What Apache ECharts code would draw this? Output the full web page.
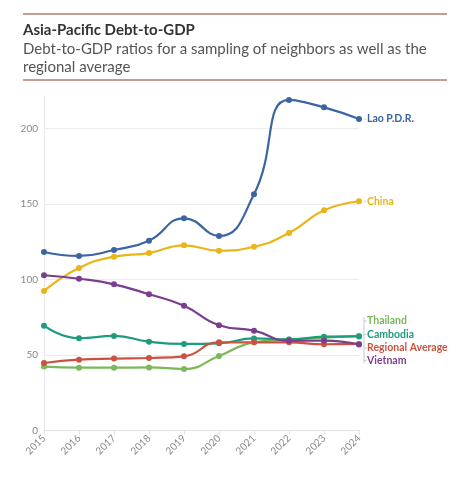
<!DOCTYPE html>
<html><head><meta charset="utf-8">
<script src="https://cdn.jsdelivr.net/npm/echarts@6/dist/echarts.min.js"></script>
<style>html,body{margin:0;padding:0;background:#fff;}#c{width:467px;height:482px;}</style>
</head><body><div id="c"></div>
<script>
const years = ['2015','2016','2017','2018','2019','2020','2021','2022','2023','2024'];
const lao = [118.2,115.6,119.5,125.7,140.5,128.8,156.4,218.9,214.0,206.3];
const china = [92.4,107.6,115.1,117.5,122.6,119.1,121.7,130.8,145.8,151.8];
const vietnam = [102.8,100.5,96.8,90.2,82.6,69.7,66.1,59.4,59.5,57.0];
const cambodia = [69.4,61.1,62.6,58.8,57.3,57.7,61.0,60.3,62.1,62.3];
const regional = [44.7,46.9,47.6,48.0,49.1,58.4,58.4,58.4,57.1,57.3];
const thailand = [42.3,41.6,41.6,41.8,40.7,49.3,58.4,60.3,61.5,62.6];
const yTicks = [0,50,100,150,200];

const FONT = 'Lato';
const seriesDefs = [
  {name:'Lao P.D.R.', data:lao, color:'#3b64a3', dy:0},
  {name:'China', data:china, color:'#e9b518', dy:0},
  {name:'Thailand', data:thailand, color:'#7ab85a', dy:-15},
  {name:'Cambodia', data:cambodia, color:'#1f9b7d', dy:-2},
  {name:'Regional Average', data:regional, color:'#cc5240', dy:4},
  {name:'Vietnam', data:vietnam, color:'#7b3d8e', dy:16}
];
const chart = echarts.init(document.getElementById('c'), null, {renderer:'canvas'});
const baseGraphic = [
  {type:'line', shape:{x1:23,y1:14,x2:447,y2:14}, style:{stroke:'#8c3b2e', lineWidth:1.2}},
  {type:'line', shape:{x1:23,y1:80,x2:447,y2:80}, style:{stroke:'#8c3b2e', lineWidth:1.2}},
  {type:'text', left:23, top:23, style:{text:'Asia-Pacific Debt-to-GDP', font:'bold 15px '+FONT, fill:'#333'}},
  {type:'text', left:23, top:40, style:{text:'Debt-to-GDP ratios for a sampling of neighbors as well as the\nregional average', font:'15px '+FONT, fill:'#555', lineHeight:18}}
];
chart.setOption({
  animation:false,
  textStyle:{fontFamily:FONT},
  graphic:baseGraphic,
  grid:{left:44, right:108, top:96, bottom:51.5},
  xAxis:{type:'category', data:years, boundaryGap:false,
    axisLine:{lineStyle:{color:'#e3e3e3'}}, axisTick:{show:true, alignWithLabel:true, lineStyle:{color:'#e3e3e3'}, length:4},
    axisLabel:{rotate:45, color:'#888', fontSize:10, margin:6}},
  yAxis:{type:'value', min:0, max:221.5, interval:50,
    axisLine:{show:true, lineStyle:{color:'#e8e8e8'}}, axisTick:{show:false},
    axisLabel:{color:'#888', fontSize:10, margin:6, showMaxLabel:false},
    splitLine:{lineStyle:{color:'#ececec'}, showMaxLine:false}},
  series: seriesDefs.map(s=>({
    name:s.name, type:'line', data:s.data, smooth:true, symbol:'circle', symbolSize:6,
    lineStyle:{width:2.2, color:s.color}, itemStyle:{color:s.color},
    endLabel:{show:true, formatter:'{a}', color:s.color, fontWeight:'bold', fontSize:10.5, distance:8, offset:[0,s.dy]}
  }))
});
// thin grey bracket joining the grouped end labels
const last = years.length - 1;
const grouped = seriesDefs.filter(s => s.dy !== 0);
const ys = grouped.map(s => chart.convertToPixel({gridIndex:0}, [last, s.data[last]])[1] + s.dy);
const bx = chart.convertToPixel({gridIndex:0}, [last, 0])[0] + 5;
const extra = [{type:'line', shape:{x1:bx, y1:Math.min(...ys)-4, x2:bx, y2:Math.max(...ys)+3}, style:{stroke:'#c8c8c8', lineWidth:1}}];
ys.forEach(y => extra.push({type:'line', shape:{x1:bx, y1:y, x2:bx+2.5, y2:y}, style:{stroke:'#c8c8c8', lineWidth:1}}));
seriesDefs.filter(s => s.dy === 0).forEach(s => {
  const p = chart.convertToPixel({gridIndex:0}, [last, s.data[last]]);
  extra.push({type:'line', shape:{x1:p[0]+5, y1:p[1], x2:p[0]+7, y2:p[1]}, style:{stroke:'#c8c8c8', lineWidth:1}});
});
chart.setOption({graphic: baseGraphic.concat(extra)});
</script></body></html>
